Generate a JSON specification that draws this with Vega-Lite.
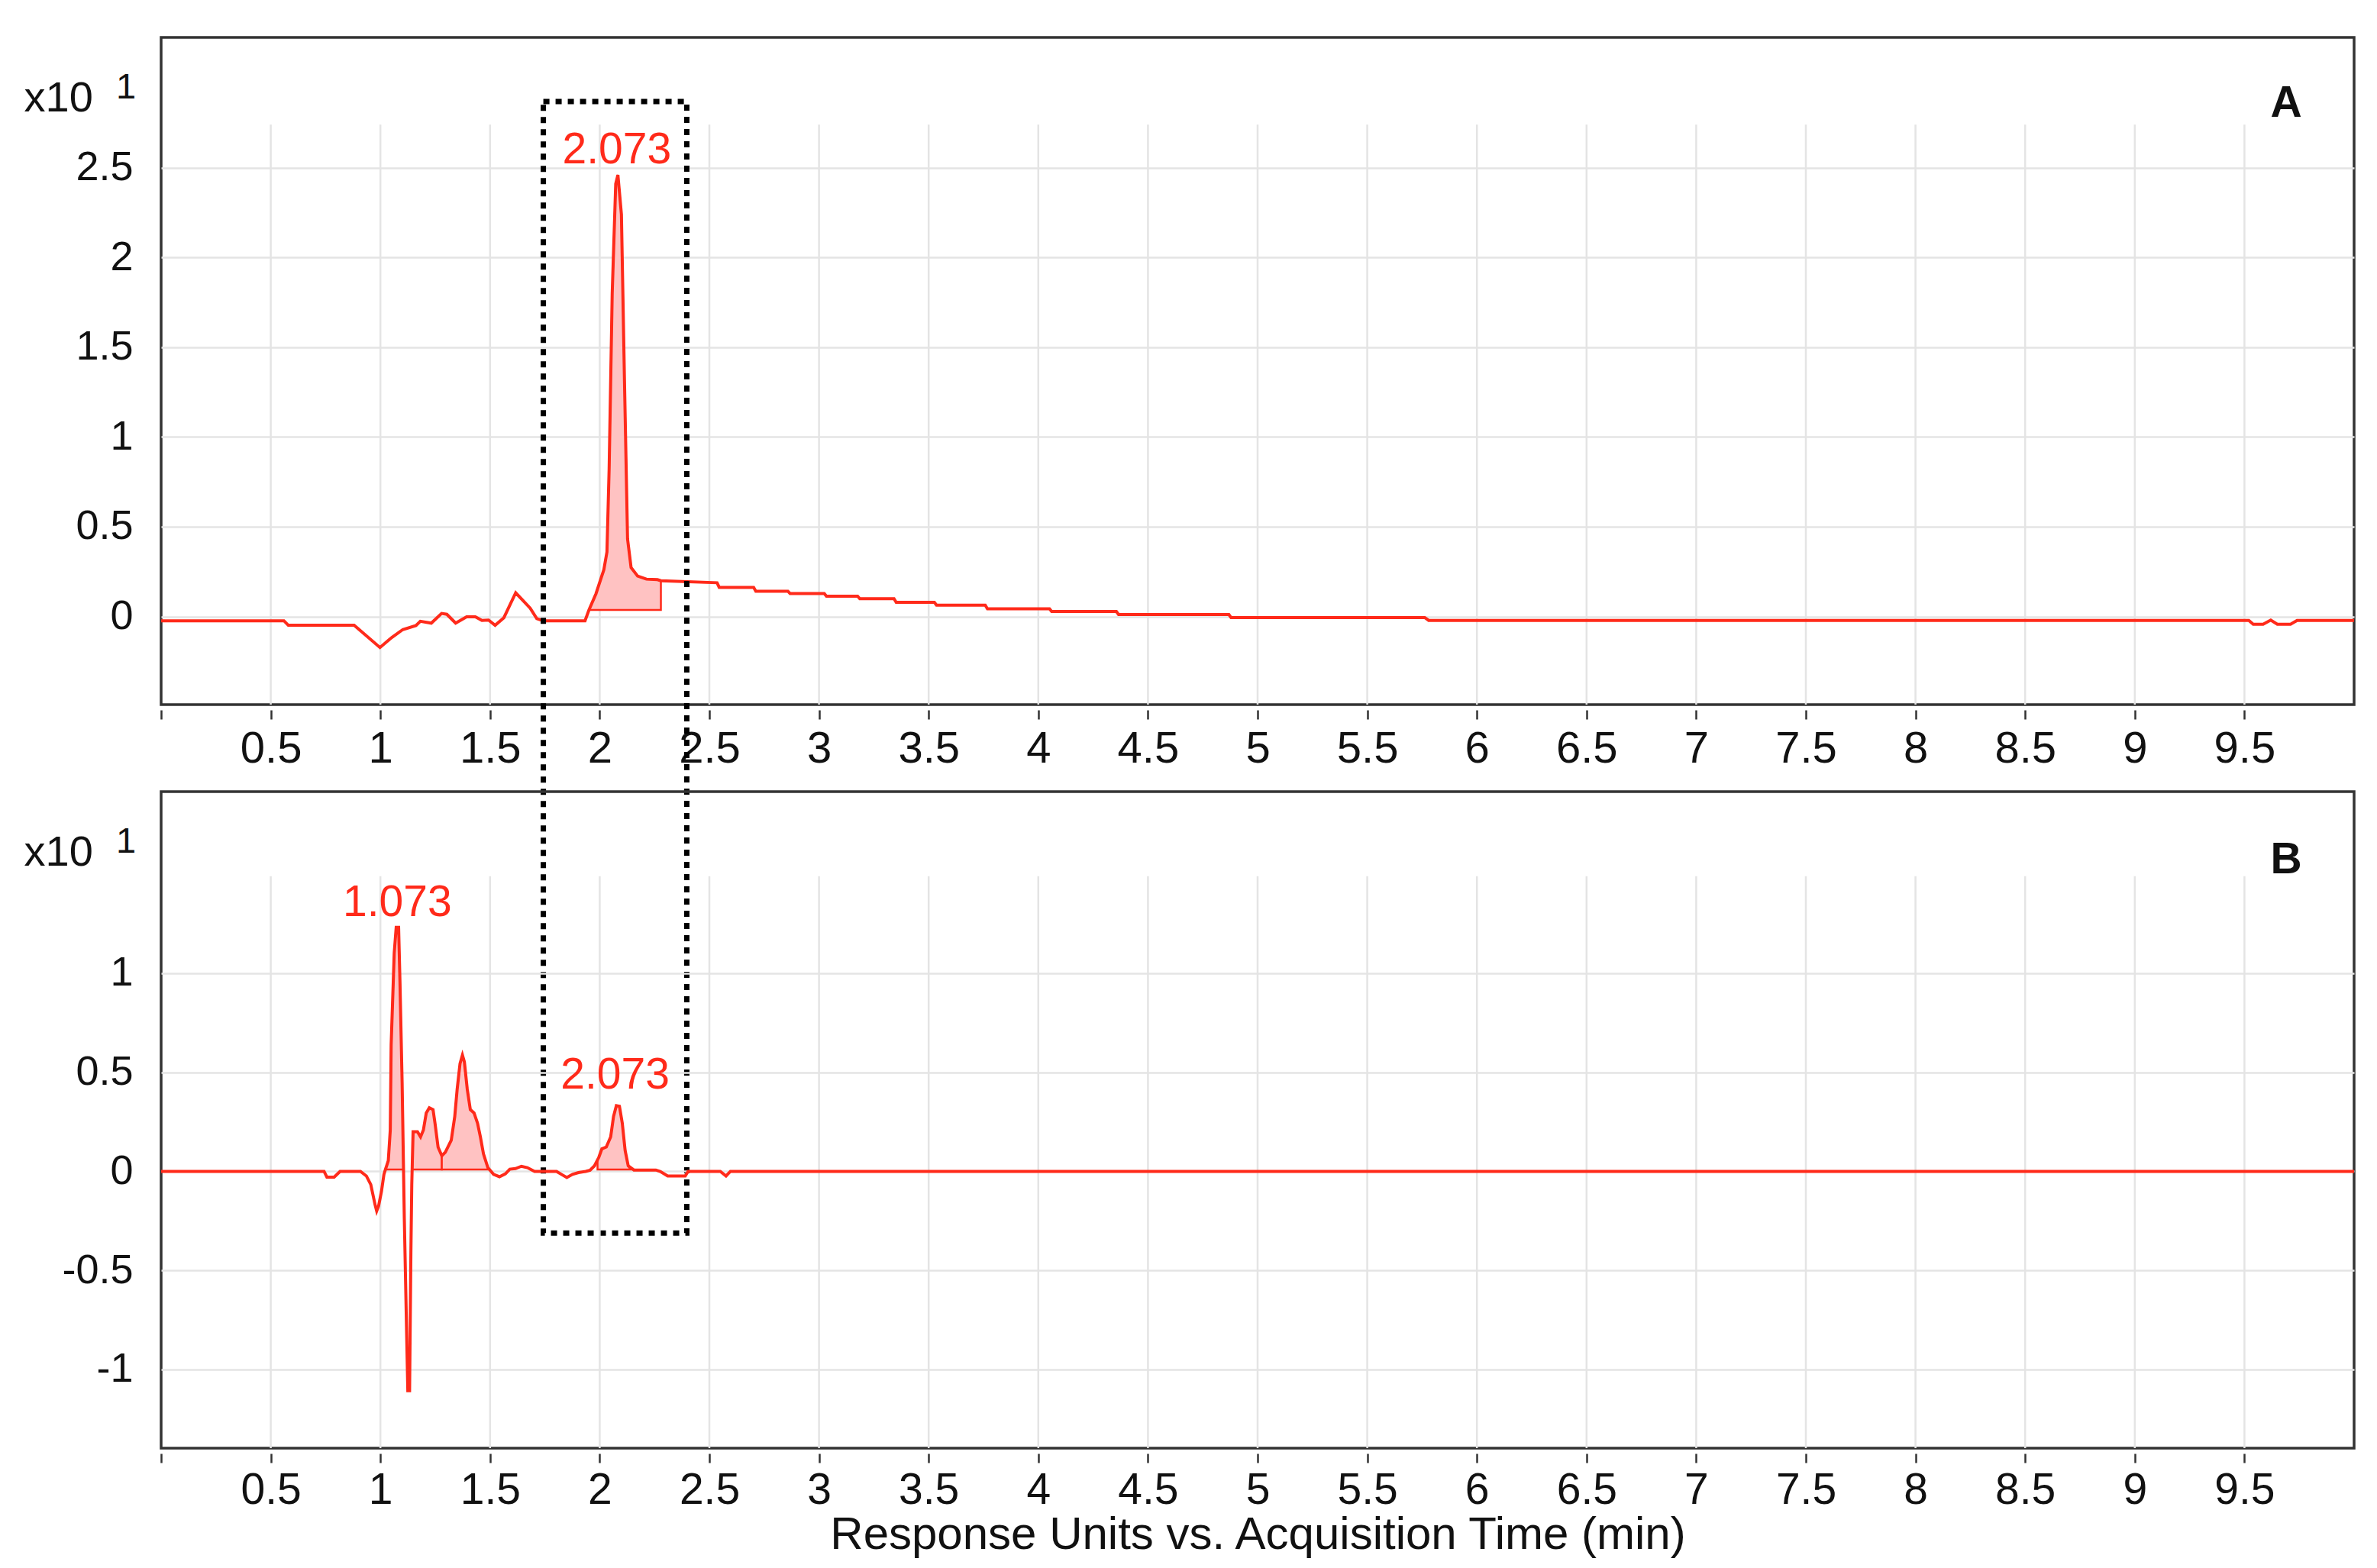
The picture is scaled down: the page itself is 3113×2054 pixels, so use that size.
{
  "$schema": "https://vega.github.io/schema/vega-lite/v6.json",
  "background": "white",
  "padding": {"left": 29, "top": 47, "right": 20, "bottom": 4},
  "spacing": 114,
  "bounds": "flush",
  "config": {
    "view": {"stroke": "#333333", "strokeWidth": 3.5},
    "font": "Liberation Sans",
    "axis": {"labelFont": "Liberation Sans", "titleFont": "Liberation Sans", "labelColor": "#111111", "titleColor": "#111111", "gridColor": "#e4e4e4", "gridWidth": 2.5}
  },
  "datasets": {
    "vgrid": [{"t":0.5},{"t":1},{"t":1.5},{"t":2},{"t":2.5},{"t":3},{"t":3.5},{"t":4},{"t":4.5},{"t":5},{"t":5.5},{"t":6},{"t":6.5},{"t":7},{"t":7.5},{"t":8},{"t":8.5},{"t":9},{"t":9.5}],
    "A": [
      {"t":0.0,"v":-0.024},{"t":0.56,"v":-0.024},{"t":0.58,"v":-0.049},{"t":0.88,"v":-0.049},{"t":0.998,"v":-0.173},
      {"t":1.052,"v":-0.117},{"t":1.102,"v":-0.073},{"t":1.162,"v":-0.051},{"t":1.182,"v":-0.027},{"t":1.232,"v":-0.037},
      {"t":1.279,"v":0.017},{"t":1.303,"v":0.012},{"t":1.343,"v":-0.037},{"t":1.393,"v":-0.002},{"t":1.433,"v":-0.002},
      {"t":1.463,"v":-0.022},{"t":1.493,"v":-0.02},{"t":1.523,"v":-0.049},{"t":1.563,"v":-0.007},{"t":1.617,"v":0.132},
      {"t":1.683,"v":0.046},{"t":1.713,"v":-0.012},{"t":1.743,"v":-0.024},{"t":1.933,"v":-0.024},{"t":1.951,"v":0.036},
      {"t":1.983,"v":0.127},{"t":2.019,"v":0.261},{"t":2.033,"v":0.359},{"t":2.043,"v":0.823},{"t":2.057,"v":1.8},
      {"t":2.073,"v":2.41},{"t":2.083,"v":2.46},{"t":2.099,"v":2.24},{"t":2.113,"v":1.31},{"t":2.127,"v":0.432},
      {"t":2.143,"v":0.273},{"t":2.173,"v":0.225},{"t":2.213,"v":0.208},{"t":2.263,"v":0.205},{"t":2.279,"v":0.199},
      {"t":2.535,"v":0.188},{"t":2.545,"v":0.162},{"t":2.702,"v":0.162},{"t":2.712,"v":0.141},{"t":2.858,"v":0.141},
      {"t":2.868,"v":0.128},{"t":3.024,"v":0.128},{"t":3.034,"v":0.113},{"t":3.176,"v":0.113},{"t":3.186,"v":0.099},
      {"t":3.342,"v":0.099},{"t":3.352,"v":0.079},{"t":3.526,"v":0.079},{"t":3.536,"v":0.063},{"t":3.758,"v":0.063},
      {"t":3.768,"v":0.043},{"t":4.051,"v":0.043},{"t":4.061,"v":0.028},{"t":4.356,"v":0.028},{"t":4.366,"v":0.011},
      {"t":4.869,"v":0.011},{"t":4.879,"v":-0.006},{"t":5.762,"v":-0.006},{"t":5.78,"v":-0.022},{"t":9.52,"v":-0.022},
      {"t":9.54,"v":-0.043},{"t":9.585,"v":-0.043},{"t":9.62,"v":-0.02},{"t":9.65,"v":-0.043},{"t":9.71,"v":-0.043},
      {"t":9.74,"v":-0.022},{"t":10.0,"v":-0.022}
    ],
    "fillA": [
      {"t":1.951,"v":0.036,"base":0.036},{"t":1.983,"v":0.127,"base":0.036},{"t":2.019,"v":0.261,"base":0.036},
      {"t":2.033,"v":0.359,"base":0.036},{"t":2.043,"v":0.823,"base":0.036},{"t":2.057,"v":1.8,"base":0.036},
      {"t":2.073,"v":2.41,"base":0.036},{"t":2.083,"v":2.46,"base":0.036},{"t":2.099,"v":2.24,"base":0.036},
      {"t":2.113,"v":1.31,"base":0.036},{"t":2.127,"v":0.432,"base":0.036},{"t":2.143,"v":0.273,"base":0.036},
      {"t":2.173,"v":0.225,"base":0.036},{"t":2.213,"v":0.208,"base":0.036},{"t":2.263,"v":0.205,"base":0.036},
      {"t":2.279,"v":0.199,"base":0.036}
    ],
    "peaksA": [{"t":2.078,"v":2.46,"label":"2.073"}],
    "B": [
      {"t":0.0,"v":0},{"t":0.743,"v":0},{"t":0.756,"v":-0.029},{"t":0.789,"v":-0.029},{"t":0.816,"v":0},{"t":0.909,"v":0},
      {"t":0.936,"v":-0.023},{"t":0.956,"v":-0.066},{"t":0.976,"v":-0.17},{"t":0.983,"v":-0.2},{"t":0.992,"v":-0.173},
      {"t":1.005,"v":-0.1},{"t":1.016,"v":-0.015},{"t":1.023,"v":0.01},{"t":1.036,"v":0.054},{"t":1.045,"v":0.209},
      {"t":1.049,"v":0.639},{"t":1.063,"v":1.103},{"t":1.072,"v":1.232},{"t":1.083,"v":1.232},{"t":1.089,"v":0.965},
      {"t":1.099,"v":0.449},{"t":1.109,"v":-0.238},{"t":1.12,"v":-0.84},{"t":1.125,"v":-1.107},{"t":1.133,"v":-1.107},
      {"t":1.139,"v":-0.41},{"t":1.143,"v":-0.066},{"t":1.149,"v":0.2},{"t":1.169,"v":0.2},{"t":1.183,"v":0.174},
      {"t":1.196,"v":0.209},{"t":1.209,"v":0.295},{"t":1.223,"v":0.321},{"t":1.24,"v":0.312},{"t":1.249,"v":0.243},
      {"t":1.263,"v":0.122},{"t":1.28,"v":0.079},{"t":1.296,"v":0.097},{"t":1.323,"v":0.157},{"t":1.339,"v":0.277},
      {"t":1.35,"v":0.415},{"t":1.363,"v":0.544},{"t":1.374,"v":0.587},{"t":1.383,"v":0.552},{"t":1.396,"v":0.415},
      {"t":1.41,"v":0.312},{"t":1.427,"v":0.295},{"t":1.443,"v":0.243},{"t":1.456,"v":0.174},{"t":1.47,"v":0.088},
      {"t":1.49,"v":0.019},{"t":1.516,"v":-0.015},{"t":1.543,"v":-0.027},{"t":1.57,"v":-0.012},{"t":1.59,"v":0.011},
      {"t":1.616,"v":0.014},{"t":1.643,"v":0.026},{"t":1.67,"v":0.019},{"t":1.703,"v":0},{"t":1.803,"v":0},
      {"t":1.83,"v":-0.018},{"t":1.85,"v":-0.031},{"t":1.876,"v":-0.015},{"t":1.903,"v":-0.006},{"t":1.936,"v":0},
      {"t":1.956,"v":0.006},{"t":1.976,"v":0.028},{"t":1.996,"v":0.071},{"t":2.01,"v":0.114},{"t":2.03,"v":0.123},
      {"t":2.05,"v":0.174},{"t":2.063,"v":0.277},{"t":2.076,"v":0.332},{"t":2.09,"v":0.329},{"t":2.103,"v":0.243},
      {"t":2.116,"v":0.105},{"t":2.13,"v":0.028},{"t":2.156,"v":0.007},{"t":2.256,"v":0.007},{"t":2.276,"v":0},
      {"t":2.31,"v":-0.023},{"t":2.39,"v":-0.023},{"t":2.403,"v":0},{"t":2.55,"v":0},{"t":2.576,"v":-0.023},
      {"t":2.596,"v":0},{"t":10.0,"v":0}
    ],
    "fillB": [
      {"seg":1,"t":1.023,"v":0.01,"base":0.01},{"seg":1,"t":1.036,"v":0.054,"base":0.01},{"seg":1,"t":1.045,"v":0.209,"base":0.01},
      {"seg":1,"t":1.049,"v":0.639,"base":0.01},{"seg":1,"t":1.063,"v":1.103,"base":0.01},{"seg":1,"t":1.072,"v":1.232,"base":0.01},
      {"seg":1,"t":1.083,"v":1.232,"base":0.01},{"seg":1,"t":1.089,"v":0.965,"base":0.01},{"seg":1,"t":1.099,"v":0.449,"base":0.01},
      {"seg":1,"t":1.105,"v":0.01,"base":0.01},
      {"seg":2,"t":1.145,"v":0.01,"base":0.01},{"seg":2,"t":1.149,"v":0.2,"base":0.01},{"seg":2,"t":1.169,"v":0.2,"base":0.01},
      {"seg":2,"t":1.183,"v":0.174,"base":0.01},{"seg":2,"t":1.196,"v":0.209,"base":0.01},{"seg":2,"t":1.209,"v":0.295,"base":0.01},
      {"seg":2,"t":1.223,"v":0.321,"base":0.01},{"seg":2,"t":1.24,"v":0.312,"base":0.01},{"seg":2,"t":1.249,"v":0.243,"base":0.01},
      {"seg":2,"t":1.263,"v":0.122,"base":0.01},{"seg":2,"t":1.28,"v":0.079,"base":0.01},
      {"seg":3,"t":1.28,"v":0.079,"base":0.01},{"seg":3,"t":1.296,"v":0.097,"base":0.01},{"seg":3,"t":1.323,"v":0.157,"base":0.01},
      {"seg":3,"t":1.339,"v":0.277,"base":0.01},{"seg":3,"t":1.35,"v":0.415,"base":0.01},{"seg":3,"t":1.363,"v":0.544,"base":0.01},
      {"seg":3,"t":1.374,"v":0.587,"base":0.01},{"seg":3,"t":1.383,"v":0.552,"base":0.01},{"seg":3,"t":1.396,"v":0.415,"base":0.01},
      {"seg":3,"t":1.41,"v":0.312,"base":0.01},{"seg":3,"t":1.427,"v":0.295,"base":0.01},{"seg":3,"t":1.443,"v":0.243,"base":0.01},
      {"seg":3,"t":1.456,"v":0.174,"base":0.01},{"seg":3,"t":1.47,"v":0.088,"base":0.01},{"seg":3,"t":1.49,"v":0.019,"base":0.01},
      {"seg":3,"t":1.495,"v":0.01,"base":0.01},
      {"seg":4,"t":1.99,"v":0.058,"base":0.01},{"seg":4,"t":1.996,"v":0.071,"base":0.01},{"seg":4,"t":2.01,"v":0.114,"base":0.01},
      {"seg":4,"t":2.03,"v":0.123,"base":0.01},{"seg":4,"t":2.05,"v":0.174,"base":0.01},{"seg":4,"t":2.063,"v":0.277,"base":0.01},
      {"seg":4,"t":2.076,"v":0.332,"base":0.01},{"seg":4,"t":2.09,"v":0.329,"base":0.01},{"seg":4,"t":2.103,"v":0.243,"base":0.01},
      {"seg":4,"t":2.116,"v":0.105,"base":0.01},{"seg":4,"t":2.13,"v":0.028,"base":0.01},{"seg":4,"t":2.14,"v":0.01,"base":0.01}
    ],
    "peaksB": [{"t":1.077,"v":1.232,"label":"1.073"},{"t":2.07,"v":0.36,"label":"2.073"}]
  },
  "vconcat": [
    {
      "width": 2872,
      "height": 874,
      "layer": [
        {
          "data": {"name": "vgrid"},
          "mark": {"type": "rule", "color": "#e4e4e4", "strokeWidth": 2.5},
          "encoding": {
            "x": {"field": "t", "type": "quantitative", "scale": {"domain": [0, 10], "nice": false, "zero": false},
              "axis": {"values": [0,0.5,1,1.5,2,2.5,3,3.5,4,4.5,5,5.5,6,6.5,7,7.5,8,8.5,9,9.5], "labelExpr": "datum.value == 0 ? '' : '' + datum.value",
                "domain": false, "grid": false, "tickSize": 12, "tickWidth": 2.5, "tickColor": "#333333", "offset": 7,
                "labelFontSize": 58, "labelBaseline": "alphabetic", "labelPadding": 56, "labelFlush": false, "labelOverlap": false, "title": null}},
            "y": {"datum": -0.491, "type": "quantitative", "scale": {"domain": [-0.491, 3.226], "nice": false, "zero": false},
              "axis": {"values": [0,0.5,1,1.5,2,2.5], "labelExpr": "'' + datum.value", "domain": false, "ticks": false, "tickSize": 0,
                "labelPadding": 37, "labelFontSize": 54, "grid": true, "labelFlush": false, "labelOverlap": false,
                "title": "x10", "titleAngle": 0, "titleAlign": "left", "titleBaseline": "alphabetic", "titleX": -180, "titleY": 96,
                "titleFontSize": 56, "titleFontWeight": "normal"}},
            "y2": {"datum": 2.74}
          }
        },
        {
          "data": {"values": [{"label": "1"}]},
          "mark": {"type": "text", "color": "#111111", "fontSize": 47, "baseline": "alphabetic", "align": "left"},
          "encoding": {
            "x": {"datum": -0.205, "type": "quantitative"},
            "y": {"datum": 2.886, "type": "quantitative"},
            "text": {"field": "label"}
          }
        },
        {
          "data": {"name": "fillA"},
          "mark": {"type": "area", "fill": "#ffc2c2", "stroke": "#ff2a1a", "strokeWidth": 2.5, "opacity": 1},
          "encoding": {
            "x": {"field": "t", "type": "quantitative"},
            "y": {"field": "v", "type": "quantitative"},
            "y2": {"field": "base"}
          }
        },
        {
          "data": {"name": "A"},
          "mark": {"type": "line", "color": "#ff2a1a", "strokeWidth": 4},
          "encoding": {
            "x": {"field": "t", "type": "quantitative"},
            "y": {"field": "v", "type": "quantitative"}
          }
        },
        {
          "data": {"name": "peaksA"},
          "mark": {"type": "text", "color": "#ff2a1a", "fontSize": 57, "baseline": "alphabetic", "align": "center", "dy": -15},
          "encoding": {
            "x": {"field": "t", "type": "quantitative"},
            "y": {"field": "v", "type": "quantitative"},
            "text": {"field": "label"}
          }
        },
        {
          "data": {"values": [{"label": "A"}]},
          "mark": {"type": "text", "color": "#111111", "fontSize": 57, "fontWeight": "bold", "baseline": "alphabetic", "align": "center"},
          "encoding": {
            "x": {"datum": 9.69, "type": "quantitative"},
            "y": {"datum": 2.785, "type": "quantitative"},
            "text": {"field": "label"}
          }
        },
        {
          "data": {"values": [{"label": "box"}]},
          "mark": {"type": "rect", "filled": false, "stroke": "#000000", "strokeWidth": 7, "strokeDash": [8, 8]},
          "encoding": {
            "x": {"datum": 1.743, "type": "quantitative"},
            "x2": {"datum": 2.397},
            "y": {"datum": 2.869, "type": "quantitative"},
            "y2": {"datum": -3.435}
          }
        }
      ]
    },
    {
      "width": 2872,
      "height": 860,
      "layer": [
        {
          "data": {"name": "vgrid"},
          "mark": {"type": "rule", "color": "#e4e4e4", "strokeWidth": 2.5},
          "encoding": {
            "x": {"field": "t", "type": "quantitative", "scale": {"domain": [0, 10], "nice": false, "zero": false},
              "axis": {"values": [0,0.5,1,1.5,2,2.5,3,3.5,4,4.5,5,5.5,6,6.5,7,7.5,8,8.5,9,9.5], "labelExpr": "datum.value == 0 ? '' : '' + datum.value",
                "domain": false, "grid": false, "tickSize": 12, "tickWidth": 2.5, "tickColor": "#333333", "offset": 7,
                "labelFontSize": 57, "labelBaseline": "alphabetic", "labelPadding": 53, "labelFlush": false, "labelOverlap": false,
                "title": "Response Units vs. Acquisition Time (min)", "titleFontSize": 60, "titleFontWeight": "normal",
                "titleBaseline": "alphabetic", "titleAlign": "center", "titleX": 1436, "titleY": 124}},
            "y": {"datum": -1.397, "type": "quantitative", "scale": {"domain": [-1.397, 1.917], "nice": false, "zero": false},
              "axis": {"values": [-1,-0.5,0,0.5,1], "labelExpr": "'' + datum.value", "domain": false, "ticks": false, "tickSize": 0,
                "labelPadding": 37, "labelFontSize": 54, "grid": true, "labelFlush": false, "labelOverlap": false,
                "title": "x10", "titleAngle": 0, "titleAlign": "left", "titleBaseline": "alphabetic", "titleX": -180, "titleY": 96,
                "titleFontSize": 56, "titleFontWeight": "normal"}},
            "y2": {"datum": 1.49}
          }
        },
        {
          "data": {"values": [{"label": "1"}]},
          "mark": {"type": "text", "color": "#111111", "fontSize": 47, "baseline": "alphabetic", "align": "left"},
          "encoding": {
            "x": {"datum": -0.205, "type": "quantitative"},
            "y": {"datum": 1.609, "type": "quantitative"},
            "text": {"field": "label"}
          }
        },
        {
          "data": {"name": "fillB"},
          "mark": {"type": "area", "fill": "#ffc2c2", "stroke": "#ff2a1a", "strokeWidth": 2.5, "opacity": 1},
          "encoding": {
            "x": {"field": "t", "type": "quantitative"},
            "y": {"field": "v", "type": "quantitative"},
            "y2": {"field": "base"},
            "detail": {"field": "seg", "type": "nominal"}
          }
        },
        {
          "data": {"name": "B"},
          "mark": {"type": "line", "color": "#ff2a1a", "strokeWidth": 4},
          "encoding": {
            "x": {"field": "t", "type": "quantitative"},
            "y": {"field": "v", "type": "quantitative"}
          }
        },
        {
          "data": {"name": "peaksB"},
          "mark": {"type": "text", "color": "#ff2a1a", "fontSize": 57, "baseline": "alphabetic", "align": "center", "dy": -15},
          "encoding": {
            "x": {"field": "t", "type": "quantitative"},
            "y": {"field": "v", "type": "quantitative"},
            "text": {"field": "label"}
          }
        },
        {
          "data": {"values": [{"label": "B"}]},
          "mark": {"type": "text", "color": "#111111", "fontSize": 57, "fontWeight": "bold", "baseline": "alphabetic", "align": "center"},
          "encoding": {
            "x": {"datum": 9.69, "type": "quantitative"},
            "y": {"datum": 1.505, "type": "quantitative"},
            "text": {"field": "label"}
          }
        }
      ]
    }
  ]
}
